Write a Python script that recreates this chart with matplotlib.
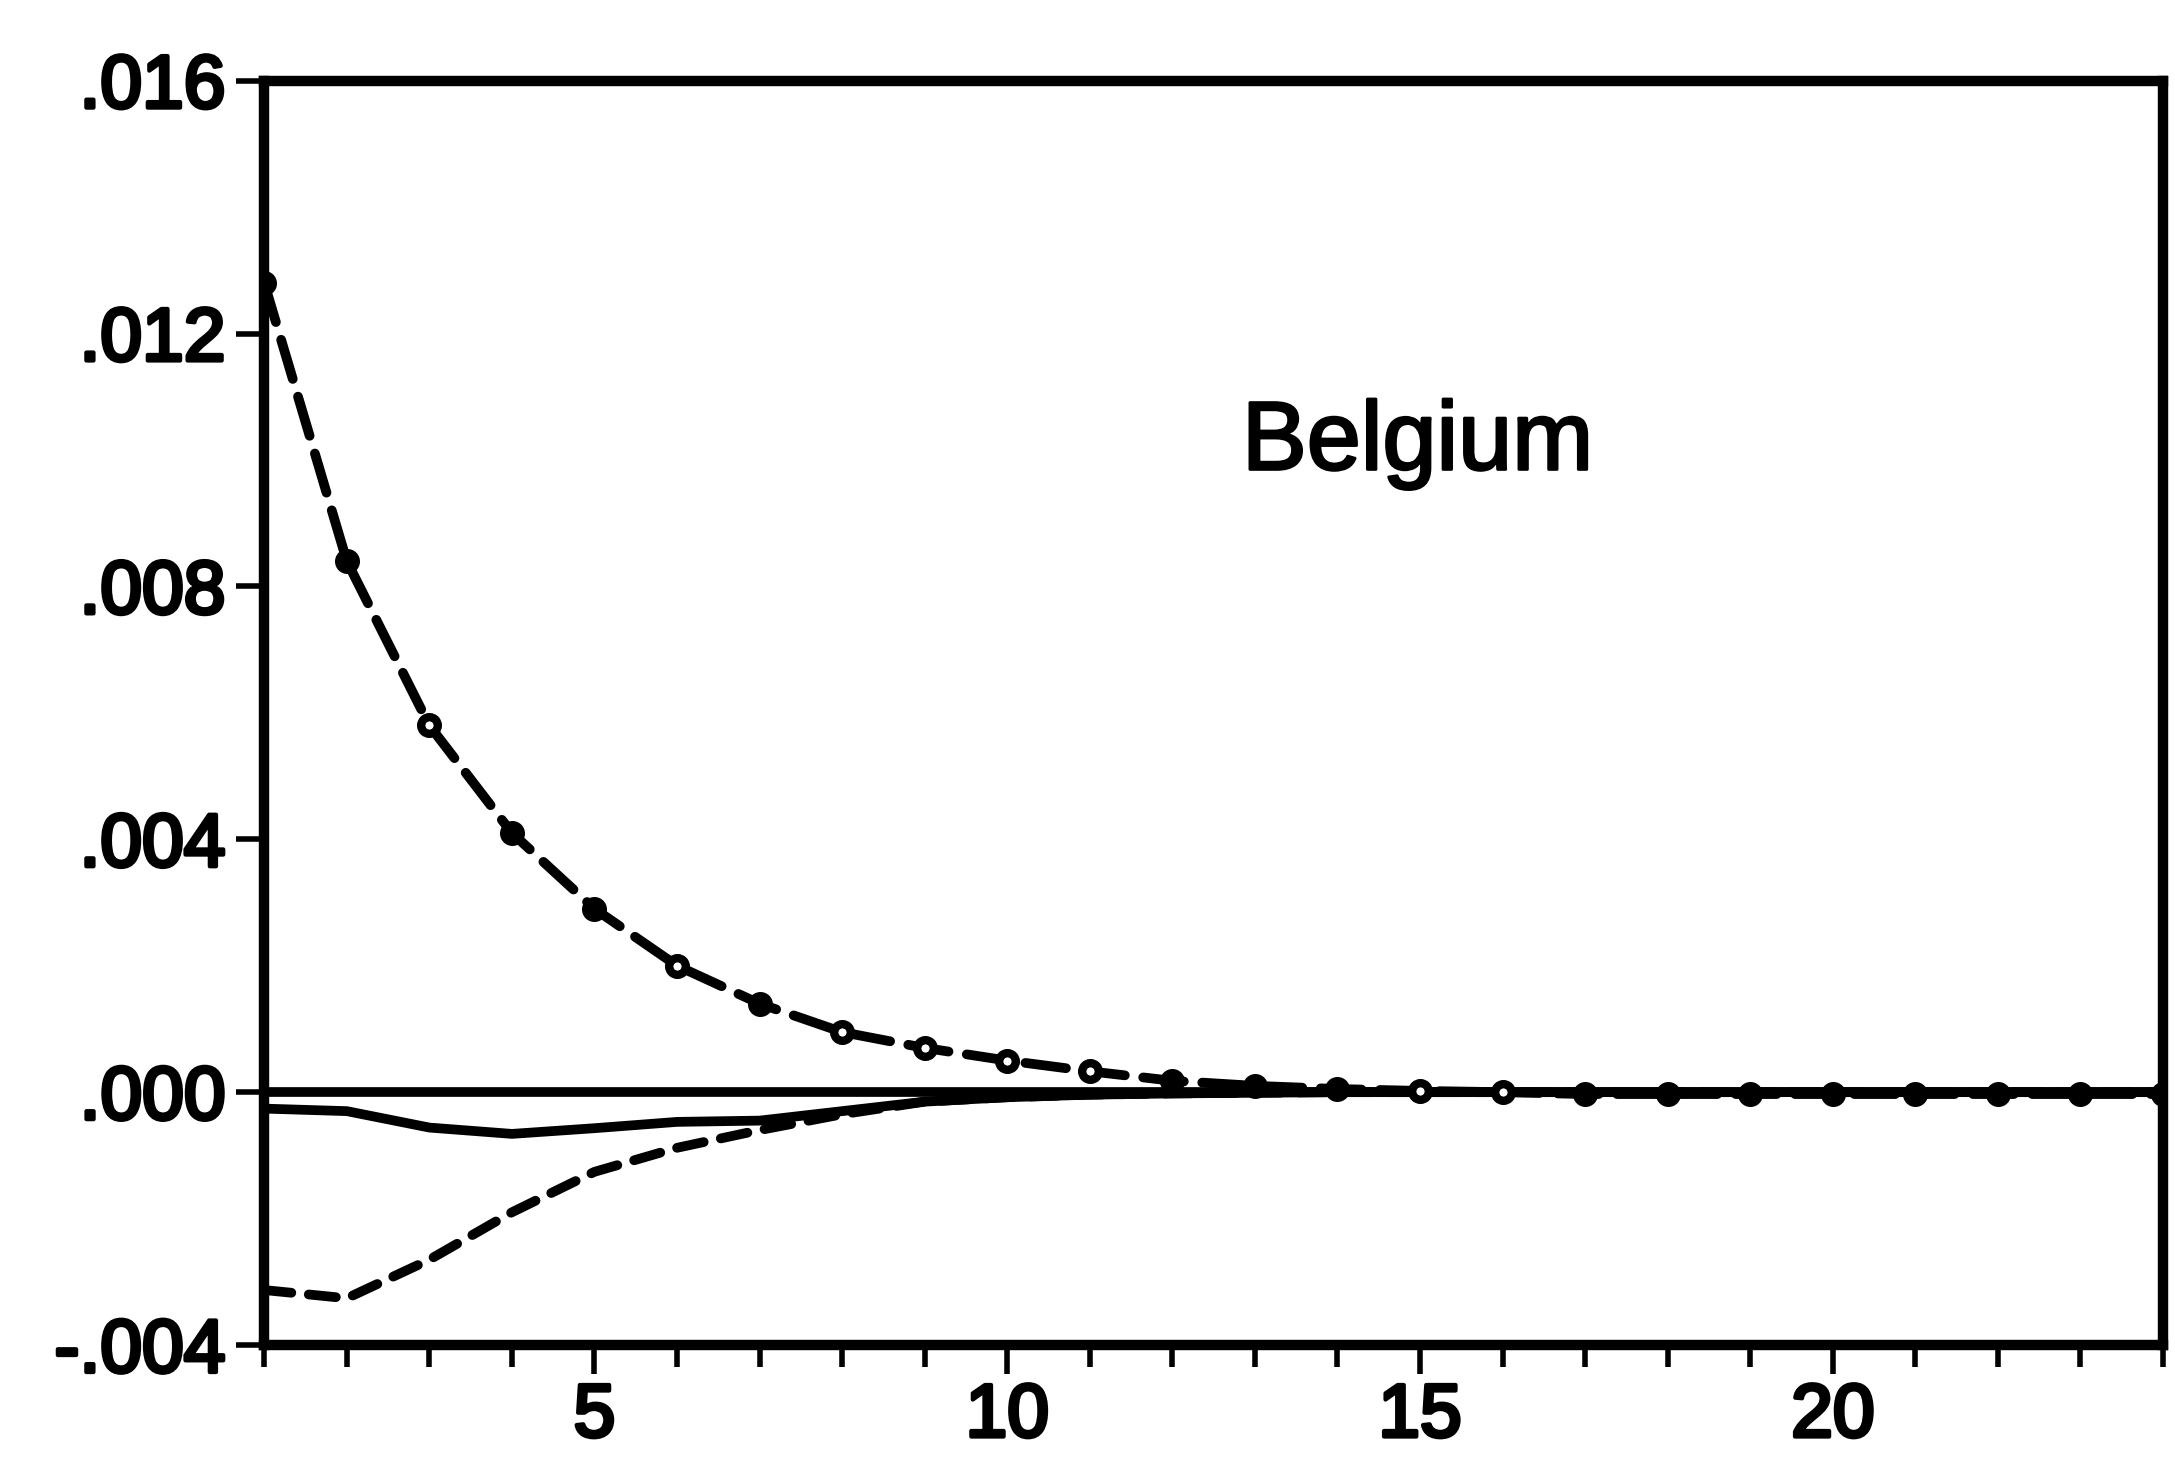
import numpy as np
import matplotlib.pyplot as plt
import matplotlib.patheffects as pe
from matplotlib.ticker import FixedLocator

# impulse responses, periods 1..24
periods = list(range(1, 25))
resp_dashed_markers = [0.0128, 0.0084, 0.0058, 0.0041, 0.0029, 0.0020, 0.0014, 0.00095,
                       0.0007, 0.0005, 0.00033, 0.00018, 0.0001, 0.00005, 0.00002, 0.0,
                       -0.00003, -0.00003, -0.00003, -0.00003, -0.00003, -0.00003, -0.00003, -0.00003]
resp_dashed = [-0.00313, -0.00326, -0.00265, -0.0019, -0.00126, -0.00088, -0.0006, -0.00035,
               -0.00015, -0.00008, -0.00004, -0.00002, -0.00001, 0.0, 0.0, 0.0,
               0.0, 0.0, 0.0, 0.0, 0.0, 0.0, 0.0, 0.0]
resp_solid = [-0.00026, -0.0003, -0.00056, -0.00066, -0.00057, -0.00047, -0.00045, -0.0003,
              -0.00015, -0.00008, -0.00004, -0.00002, -0.00001, 0.0, 0.0, 0.0,
              0.0, 0.0, 0.0, 0.0, 0.0, 0.0, 0.0, 0.0]
open_marks = [3, 6, 8, 9, 10, 11, 15, 16]

yticks = [-0.004, 0.0, 0.004, 0.008, 0.012, 0.016]
ytick_labels = ['-.004', '.000', '.004', '.008', '.012', '.016']
xticks_major = [5, 10, 15, 20]

plt.rcParams['font.family'] = ['Liberation Sans', 'DejaVu Sans']

fig = plt.figure(figsize=(21.75, 14.66), dpi=100)
ax = fig.add_axes([0.1215, 0.0825, 0.873, 0.8625])

lw = 7
ax.axhline(0, color='black', lw=lw, zorder=2)
ax.plot(periods, resp_solid, color='black', lw=lw, solid_capstyle='round',
        solid_joinstyle='round', zorder=3)
ax.plot(periods, resp_dashed, color='black', lw=lw, dashes=(2.8, 1.8),
        dash_capstyle='round', zorder=3)
ax.plot(periods, resp_dashed_markers, color='black', lw=lw, dashes=(4.2, 1.9),
        dash_capstyle='round', zorder=4)

x = np.array(periods)
y = np.array(resp_dashed_markers)
is_open = np.isin(x, open_marks)
ax.plot(x[~is_open], y[~is_open], 'o', color='black', ms=18, mew=0, zorder=5)
ax.plot(x[is_open], y[is_open], 'o', mfc='white', mec='black', mew=6, ms=12, zorder=5)

ax.text(14.97, 0.00985, 'Belgium', fontsize=70, ha='center', va='baseline',
        path_effects=[pe.withStroke(linewidth=2, foreground='black')])

ax.set_xlim(1, 24)
ax.set_ylim(-0.004, 0.016)
ax.set_yticks(yticks)
ax.set_yticklabels(ytick_labels, fontsize=54)
ax.set_xticks(xticks_major)
ax.set_xticklabels([str(t) for t in xticks_major], fontsize=54)
ax.xaxis.set_minor_locator(FixedLocator(periods))
for lab in ax.get_xticklabels() + ax.get_yticklabels():
    lab.set_path_effects([pe.withStroke(linewidth=3, foreground='black')])

ax.tick_params(axis='y', direction='out', length=20, width=4, pad=8)
ax.tick_params(axis='x', which='major', direction='out', length=21, width=4, pad=6)
ax.tick_params(axis='x', which='minor', direction='out', length=16, width=4)

for side in ['top', 'bottom', 'left', 'right']:
    ax.spines[side].set_linewidth(7.5)

fig.savefig('out.png', dpi=100)
